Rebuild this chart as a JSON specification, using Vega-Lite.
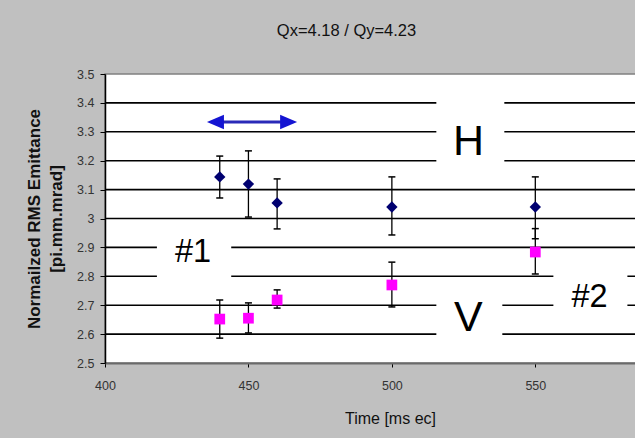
{
  "$schema": "https://vega.github.io/schema/vega-lite/v6.json",
  "width": 531,
  "height": 289,
  "autosize": {"type": "none"},
  "padding": {"left": 105, "top": 74, "right": 0, "bottom": 75},
  "background": "#c0c0c0",
  "title": {"text": "Qx=4.18 / Qy=4.23", "fontSize": 16.5, "font": "Liberation Sans", "fontWeight": "normal", "color": "#111111", "dx": -24, "offset": 29},
  "config": {
    "view": {"fill": "white", "stroke": "#808080", "strokeWidth": 1.5},
    "axis": {"labelFont": "Liberation Sans", "labelFontSize": 12.5, "labelColor": "#333333", "titleFont": "Liberation Sans", "titleColor": "#111111", "tickColor": "black", "domainColor": "black", "grid": false, "labelOverlap": false, "labelFlush": false}
  },
  "datasets": {
    "series": [
      {"time": 440, "value": 3.144, "lo": 3.071, "hi": 3.216, "plane": "H"},
      {"time": 450, "value": 3.119, "lo": 3.005, "hi": 3.234, "plane": "H"},
      {"time": 460, "value": 3.054, "lo": 2.964, "hi": 3.137, "plane": "H"},
      {"time": 500, "value": 3.040, "lo": 2.943, "hi": 3.144, "plane": "H"},
      {"time": 550, "value": 3.040, "lo": 2.930, "hi": 3.144, "plane": "H"},
      {"time": 440, "value": 2.652, "lo": 2.586, "hi": 2.718, "plane": "V"},
      {"time": 450, "value": 2.655, "lo": 2.604, "hi": 2.708, "plane": "V"},
      {"time": 460, "value": 2.718, "lo": 2.690, "hi": 2.753, "plane": "V"},
      {"time": 500, "value": 2.770, "lo": 2.694, "hi": 2.849, "plane": "V"},
      {"time": 550, "value": 2.884, "lo": 2.808, "hi": 2.965, "plane": "V"}
    ],
    "grid": [
      {"level": 2.6}, {"level": 2.7}, {"level": 2.8}, {"level": 2.9}, {"level": 3.0},
      {"level": 3.1}, {"level": 3.2}, {"level": 3.3}, {"level": 3.4}
    ],
    "labels": [
      {"label": "H", "kind": "big", "x1": 515.5, "x2": 539.2, "y1": 3.13, "y2": 3.44, "tx": 526.7, "ty": 3.22},
      {"label": "V", "kind": "big", "x1": 515.5, "x2": 538.5, "y1": 2.56, "y2": 2.77, "tx": 526.7, "ty": 2.611},
      {"label": "#1", "kind": "small", "x1": 418.1, "x2": 444.0, "y1": 2.77, "y2": 2.93, "tx": 430.7, "ty": 2.849},
      {"label": "#2", "kind": "small", "x1": 556.3, "x2": 582.1, "y1": 2.67, "y2": 2.83, "tx": 568.9, "ty": 2.694}
    ],
    "arrow": [
      {"start": 438.5, "end": 464.0, "level": 3.334}
    ]
  },
  "layer": [
    {
      "data": {"name": "grid"},
      "mark": {"type": "rule", "color": "black", "strokeWidth": 1.6},
      "encoding": {
        "y": {
          "field": "level", "type": "quantitative",
          "scale": {"domain": [2.5, 3.5], "nice": false, "zero": false},
          "axis": {
            "values": [2.5, 2.6, 2.7, 2.8, 2.9, 3.0, 3.1, 3.2, 3.3, 3.4, 3.5],
            "tickCount": 20,
            "labelOverlap": false,
            "labelExpr": "format(datum.value, '~g')",
            "title": ["Normailzed RMS Emittance", "[pi.mm.mrad]"],
            "titleFontSize": 17, "titleFontWeight": "bold", "titleLineHeight": 22, "titlePadding": 11,
            "tickSize": 5, "labelPadding": 6, "domainWidth": 1.5, "grid": false
          }
        }
      }
    },
    {
      "data": {"name": "labels"},
      "mark": {"type": "rect", "fill": "white"},
      "encoding": {
        "x": {"field": "x1", "type": "quantitative", "scale": {"domain": [400, 585.1], "nice": false, "zero": false}},
        "x2": {"field": "x2"},
        "y": {"field": "y1", "type": "quantitative"},
        "y2": {"field": "y2"}
      }
    },
    {
      "data": {"name": "labels"},
      "transform": [{"filter": "datum.kind === 'big'"}],
      "mark": {"type": "text", "font": "Liberation Sans", "fontSize": 43, "color": "black", "align": "center", "baseline": "alphabetic"},
      "encoding": {
        "x": {"field": "tx", "type": "quantitative"},
        "y": {"field": "ty", "type": "quantitative"},
        "text": {"field": "label"}
      }
    },
    {
      "data": {"name": "labels"},
      "transform": [{"filter": "datum.kind === 'small'"}],
      "mark": {"type": "text", "font": "Liberation Sans", "fontSize": 32.5, "color": "black", "align": "center", "baseline": "alphabetic"},
      "encoding": {
        "x": {"field": "tx", "type": "quantitative"},
        "y": {"field": "ty", "type": "quantitative"},
        "text": {"field": "label"}
      }
    },
    {
      "data": {"name": "arrow"},
      "mark": {"type": "rule", "color": "#2a2ab8", "strokeWidth": 3},
      "encoding": {
        "x": {"field": "start", "type": "quantitative"},
        "x2": {"field": "end"},
        "y": {"field": "level", "type": "quantitative"}
      }
    },
    {
      "data": {"name": "arrow"},
      "mark": {"type": "point", "filled": true, "opacity": 1, "color": "#1414d2", "shape": "M -1,0 L 1,-0.85 L 1,0.85 Z", "size": 289, "strokeWidth": 0},
      "encoding": {
        "x": {"field": "start", "type": "quantitative"},
        "y": {"field": "level", "type": "quantitative"}
      }
    },
    {
      "data": {"name": "arrow"},
      "mark": {"type": "point", "filled": true, "opacity": 1, "color": "#1414d2", "shape": "M 1,0 L -1,-0.85 L -1,0.85 Z", "size": 289, "strokeWidth": 0},
      "encoding": {
        "x": {"field": "end", "type": "quantitative"},
        "y": {"field": "level", "type": "quantitative"}
      }
    },
    {
      "data": {"name": "series"},
      "mark": {"type": "rule", "color": "black", "strokeWidth": 1.3},
      "encoding": {
        "x": {
          "field": "time", "type": "quantitative",
          "axis": {
            "values": [400, 450, 500, 550],
            "title": "Time [ms ec]", "titleFontSize": 16, "titleFontWeight": "normal",
            "titleX": 285, "titlePadding": 19,
            "tickSize": 4, "labelPadding": 12, "domainColor": "#6a6a6a", "domainWidth": 2, "grid": false
          }
        },
        "y": {"field": "lo", "type": "quantitative"},
        "y2": {"field": "hi"}
      }
    },
    {
      "data": {"name": "series"},
      "mark": {"type": "tick", "orient": "horizontal", "color": "black", "size": 7, "thickness": 1.5, "opacity": 1},
      "encoding": {
        "x": {"field": "time", "type": "quantitative"},
        "y": {"field": "lo", "type": "quantitative"}
      }
    },
    {
      "data": {"name": "series"},
      "mark": {"type": "tick", "orient": "horizontal", "color": "black", "size": 7, "thickness": 1.5, "opacity": 1},
      "encoding": {
        "x": {"field": "time", "type": "quantitative"},
        "y": {"field": "hi", "type": "quantitative"}
      }
    },
    {
      "data": {"name": "series"},
      "transform": [{"filter": "datum.plane === 'H'"}],
      "mark": {"type": "point", "filled": true, "opacity": 1, "shape": "diamond", "size": 130, "color": "#000070"},
      "encoding": {
        "x": {"field": "time", "type": "quantitative"},
        "y": {"field": "value", "type": "quantitative"}
      }
    },
    {
      "data": {"name": "series"},
      "transform": [{"filter": "datum.plane === 'V'"}],
      "mark": {"type": "point", "filled": true, "opacity": 1, "shape": "square", "size": 115, "color": "#ff00ff"},
      "encoding": {
        "x": {"field": "time", "type": "quantitative"},
        "y": {"field": "value", "type": "quantitative"}
      }
    }
  ]
}
